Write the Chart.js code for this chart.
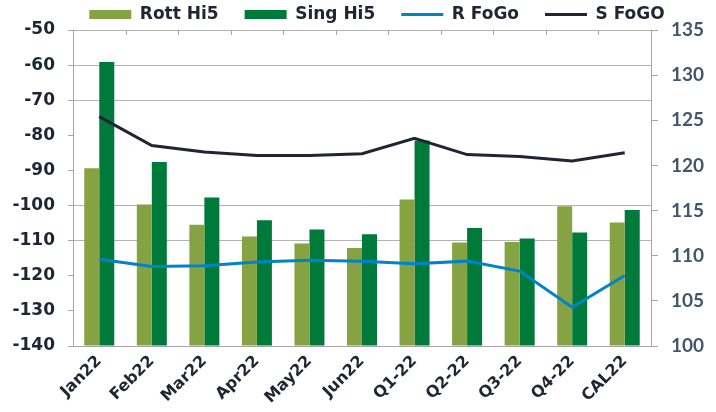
<!DOCTYPE html>
<html>
<head>
<meta charset="utf-8">
<script src="https://cdn.jsdelivr.net/npm/chart.js@4"></script>
<style>
  html, body { margin: 0; padding: 0; background: #fff; }
  #wrap { width: 716px; height: 412px; }
</style>
</head>
<body>
<div id="wrap"><canvas id="myChart" width="716" height="412"></canvas></div>
<script>
const periods = ["Jan22", "Feb22", "Mar22", "Apr22", "May22", "Jun22", "Q1-22", "Q2-22", "Q3-22", "Q4-22", "CAL22"];
const rottHi5 = [-89.4, -99.7, -105.5, -108.8, -110.8, -112.1, -98.3, -110.5, -110.4, -100.2, -104.8];
const singHi5 = [-59.1, -87.6, -97.7, -104.2, -106.8, -108.2, -81.5, -106.4, -109.4, -107.7, -101.3];
const rFoGo = [109.6, 108.8, 108.9, 109.3, 109.5, 109.4, 109.1, 109.4, 108.3, 104.3, 107.8];
const sFoGO = [125.4, 122.2, 121.5, 121.1, 121.1, 121.3, 123.0, 121.2, 121.0, 120.5, 121.4];
const gridValues = [-50, -60, -70, -100, -110];

const axisGrey = "#a6a6a6";
const textDark = "#1f2633";

// legend nudge + small inward tick marks along the top edge at category boundaries
const topTicks = {
  id: "topTicks",
  afterInit(chart) {
    const lg = chart.legend;
    const draw = lg.draw;
    lg.draw = function (area) {
      chart.ctx.save();
      chart.ctx.translate(19, 0);
      draw.call(this, area);
      chart.ctx.restore();
    };
    const fit = lg.fit;
    lg.fit = function () {
      fit.call(this);
      this.height -= 3;
    };
  },
  afterDraw(chart) {
    const { ctx, chartArea } = chart;
    const n = periods.length;
    const w = (chartArea.right - chartArea.left) / n;
    ctx.save();
    ctx.strokeStyle = axisGrey;
    ctx.lineWidth = 1;
    for (let i = 0; i <= n; i++) {
      const x = Math.round(chartArea.left + i * w) + 0.5;
      ctx.beginPath();
      ctx.moveTo(x, chartArea.top);
      ctx.lineTo(x, chartArea.top + 5);
      ctx.stroke();
    }
    ctx.restore();
  },
};

const ctx = document.getElementById("myChart");
const myChart = new Chart(ctx, {
  type: "bar",
  data: {
    labels: periods,
    datasets: [
      {
        label: "Rott Hi5",
        data: rottHi5,
        backgroundColor: "#85a343",
        base: -140,
        yAxisID: "y",
        order: 2,
        pointStyle: "rect",
      },
      {
        label: "Sing Hi5",
        data: singHi5,
        backgroundColor: "#007a3a",
        base: -140,
        yAxisID: "y",
        order: 2,
        pointStyle: "rect",
      },
      {
        type: "line",
        label: "R FoGo",
        data: rFoGo,
        borderColor: "#0084c8",
        backgroundColor: "#0084c8",
        borderWidth: 3,
        pointRadius: 0,
        tension: 0,
        yAxisID: "y1",
        order: 1,
        pointStyle: "line",
      },
      {
        type: "line",
        label: "S FoGO",
        data: sFoGO,
        borderColor: "#1f2532",
        backgroundColor: "#1f2532",
        borderWidth: 3,
        pointRadius: 0,
        tension: 0,
        yAxisID: "y1",
        order: 1,
        pointStyle: "line",
      },
    ],
  },
  options: {
    responsive: false,
    animation: false,
    layout: { padding: { top: -20, left: 0, right: 0, bottom: 0 } },
    datasets: {
      bar: { categoryPercentage: 0.571, barPercentage: 1 },
    },
    plugins: {
      tooltip: { enabled: false },
      legend: {
        position: "top",
        labels: {
          usePointStyle: true,
          pointStyleWidth: 42,
          boxHeight: 9,
          padding: 26,
          color: textDark,
          font: { family: "DejaVu Sans", weight: "bold", size: 17 },
          sort: (a, b) => a.datasetIndex - b.datasetIndex,
        },
      },
    },
    scales: {
      x: {
        position: "bottom",
        grid: { drawOnChartArea: false, drawTicks: false },
        border: { display: true, color: axisGrey },
        ticks: {
          minRotation: 45,
          maxRotation: 45,
          padding: 6,
          color: textDark,
          font: { family: "DejaVu Sans", weight: "bold", size: 16 },
        },
        afterFit(scale) { scale.height = 66; },
      },
      y: {
        position: "left",
        min: -140,
        max: -50,
        ticks: {
          stepSize: 10,
          padding: 13,
          color: textDark,
          font: { family: "DejaVu Sans", weight: "bold", size: 17 },
        },
        grid: {
          color: (c) => (gridValues.includes(c.tick && c.tick.value) ? "#b3b3b3" : "rgba(0,0,0,0)"),
          tickColor: axisGrey,
          tickLength: 5,
        },
        border: { display: true, color: axisGrey },
        afterFit(scale) { scale.width = 73; },
      },
      y1: {
        position: "right",
        min: 100,
        max: 135,
        ticks: {
          stepSize: 5,
          padding: 13,
          color: "#44546a",
          font: { family: "Lato", weight: "bold", size: 19 },
        },
        grid: { drawOnChartArea: false, tickColor: axisGrey, tickLength: 7 },
        border: { display: true, color: axisGrey },
        afterFit(scale) { scale.width = 65; },
      },
    },
  },
  plugins: [topTicks],
});
</script>
</body>
</html>
